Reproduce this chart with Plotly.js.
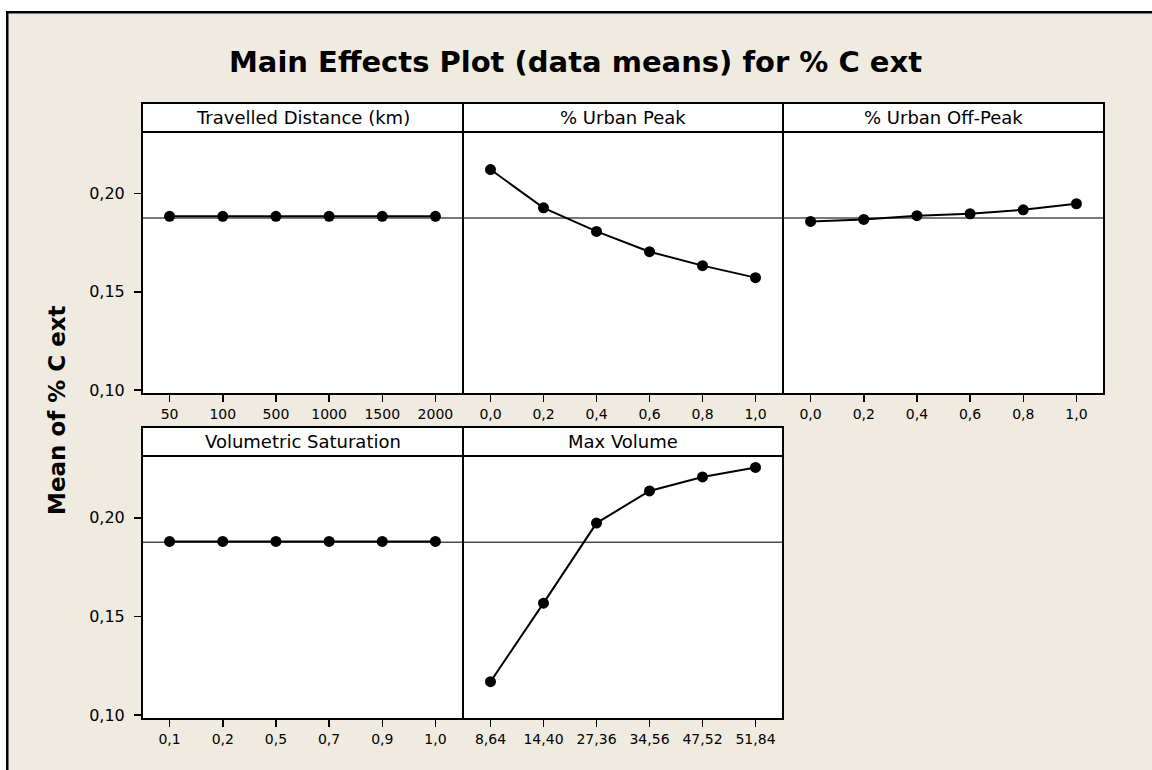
<!DOCTYPE html>
<html>
<head>
<meta charset="utf-8">
<script src="https://cdn.plot.ly/plotly-3.0.1.min.js"></script>
<style>html,body{margin:0;padding:0;background:#efebe1;overflow:hidden;}#wrap{width:1152px;height:770px;overflow:hidden;position:relative;}#chart{width:1170px;height:770px;}</style>
</head>
<body>
<div id="wrap"><div id="chart"></div></div>
<script>
// ---- data ----
const factorNames = ["Travelled Distance (km)", "% Urban Peak", "% Urban Off-Peak", "Volumetric Saturation", "Max Volume"];
const levelsTravelled = ["50", "100", "500", "1000", "1500", "2000"];
const levelsUrbanPeak = ["0,0", "0,2", "0,4", "0,6", "0,8", "1,0"];
const levelsUrbanOffPeak = ["0,0", "0,2", "0,4", "0,6", "0,8", "1,0"];
const levelsVolSat = ["0,1", "0,2", "0,5", "0,7", "0,9", "1,0"];
const levelsMaxVol = ["8,64", "14,40", "27,36", "34,56", "47,52", "51,84"];

const meansTravelled = [0.1884, 0.1884, 0.1884, 0.1884, 0.1884, 0.1884];
const meansUrbanPeak = [0.2122, 0.1927, 0.1807, 0.1704, 0.1633, 0.1572];
const meansUrbanOffPeak = [0.1858, 0.1868, 0.1887, 0.1897, 0.1917, 0.1948];
const meansVolSat = [0.1880, 0.1880, 0.1880, 0.1880, 0.1880, 0.1880];
const meansMaxVol = [0.1169, 0.1567, 0.1973, 0.2136, 0.2207, 0.2255];

const overallMean = 0.1876;
const yTickVals = [0.10, 0.15, 0.20];

// ---- layout helpers ----
// the drawing surface is a little wider than the 1152px window; the extra
// strip on the right is cropped by the wrapper
const W = 1170, H = 770;
const px = v => v / W;
const py = v => 1 - v / H;
const beige = "#efebe1";
const FONT = "DejaVu Sans, Verdana, sans-serif";

const panels = [
  {levels: levelsTravelled, means: meansTravelled, col: 0, row: 0},
  {levels: levelsUrbanPeak, means: meansUrbanPeak, col: 1, row: 0},
  {levels: levelsUrbanOffPeak, means: meansUrbanOffPeak, col: 2, row: 0},
  {levels: levelsVolSat, means: meansVolSat, col: 0, row: 1},
  {levels: levelsMaxVol, means: meansMaxVol, col: 1, row: 1}
];
const colX = [[143, 462], [464, 782], [784, 1103]];
const rowY = [[132, 393], [456, 718]]; // plot area top/bottom in px
const headerH = 29;
const yRange = [0.0985, 0.2313];

const traces = [];
const layout = {
  width: W, height: H,
  margin: {l: 0, r: 0, t: 0, b: 0, pad: 0},
  paper_bgcolor: beige,
  plot_bgcolor: "#ffffff",
  showlegend: false,
  separators: ",.",
  font: {family: FONT, color: "#000"},
  shapes: [],
  annotations: []
};

// white margin strips and outer frame edges (filled rects, no strokes)
layout.shapes.push({type: "rect", xref: "paper", yref: "paper", x0: 0, x1: 1, y0: py(11), y1: 1, fillcolor: "#ffffff", line: {width: 0, color: "rgba(0,0,0,0)"}, layer: "below"});
layout.shapes.push({type: "rect", xref: "paper", yref: "paper", x0: 0, x1: px(6), y0: 0, y1: 1, fillcolor: "#ffffff", line: {width: 0, color: "rgba(0,0,0,0)"}, layer: "below"});
layout.shapes.push({type: "rect", xref: "paper", yref: "paper", x0: px(6), x1: 1, y0: py(13.5), y1: py(11), fillcolor: "#000000", line: {width: 0, color: "rgba(0,0,0,0)"}, layer: "below"});
layout.shapes.push({type: "rect", xref: "paper", yref: "paper", x0: px(6), x1: px(8.5), y0: 0, y1: py(11), fillcolor: "#000000", line: {width: 0, color: "rgba(0,0,0,0)"}, layer: "below"});

panels.forEach((p, i) => {
  const n = i + 1;
  const xa = "xaxis" + (n === 1 ? "" : n);
  const ya = "yaxis" + (n === 1 ? "" : n);
  const xr = "x" + (n === 1 ? "" : n);
  const yr = "y" + (n === 1 ? "" : n);
  const [x0, x1] = colX[p.col];
  const [yt, yb] = rowY[p.row];
  const firstCol = p.col === 0;

  layout[xa] = {
    domain: [px(x0), px(x1)], anchor: yr, type: "category",
    range: [-0.5, 5.5], showgrid: false, zeroline: false,
    showline: true, mirror: true, linecolor: "#000", linewidth: 2,
    ticks: "outside", ticklen: 7, tickwidth: 1.5, tickcolor: "#000",
    tickfont: {size: 14, family: FONT, color: "#000"},
    fixedrange: true
  };
  layout[ya] = {
    domain: [py(yb), py(yt)], anchor: xr, range: yRange,
    tickvals: yTickVals, tickformat: ".2f",
    showgrid: false, zeroline: false,
    showline: true, mirror: true, linecolor: "#000", linewidth: 2,
    ticks: firstCol ? "outside" : "", ticklen: 7, tickwidth: 1.5, tickcolor: "#000",
    showticklabels: firstCol, ticklabelstandoff: 6,
    tickfont: {size: 16, family: FONT, color: "#000"},
    fixedrange: true
  };

  // overall mean reference line
  layout.shapes.push({type: "line", xref: xr + " domain", yref: yr, x0: 0, x1: 1, y0: overallMean, y1: overallMean,
    line: {color: "#4d4d4d", width: 1.5}, layer: "below"});

  // header box
  layout.shapes.push({type: "rect", xref: "paper", yref: "paper", x0: px(x0 - 1), x1: px(x1 + 1), y0: py(yt), y1: py(yt - headerH),
    fillcolor: "#ffffff", line: {color: "#000", width: 2}});
  layout.annotations.push({xref: "paper", yref: "paper", x: px((x0 + x1) / 2), y: py(yt - headerH / 2),
    text: factorNames[i], showarrow: false, xanchor: "center", yanchor: "middle",
    font: {size: 18, family: FONT, color: "#000"}});

  traces.push({
    type: "scatter", mode: "lines+markers", x: p.levels, y: p.means, xaxis: xr, yaxis: yr,
    line: {color: "#000", width: 2},
    marker: {color: "#000", size: 11, symbol: "circle"},
    hoverinfo: "skip", cliponaxis: false
  });
});

// chart title
layout.annotations.push({xref: "paper", yref: "paper", x: px(575), y: py(62), xanchor: "center", yanchor: "middle",
  text: "<b>Main Effects Plot (data means) for % C ext</b>", showarrow: false,
  font: {size: 29, family: FONT, color: "#000"}});
// y axis title
layout.annotations.push({xref: "paper", yref: "paper", x: px(57), y: py(410), xanchor: "center", yanchor: "middle",
  text: "<b>Mean of % C ext</b>", textangle: -90, showarrow: false,
  font: {size: 23, family: FONT, color: "#000"}});

Plotly.newPlot("chart", traces, layout, {staticPlot: true, displayModeBar: false});
</script>
</body>
</html>
